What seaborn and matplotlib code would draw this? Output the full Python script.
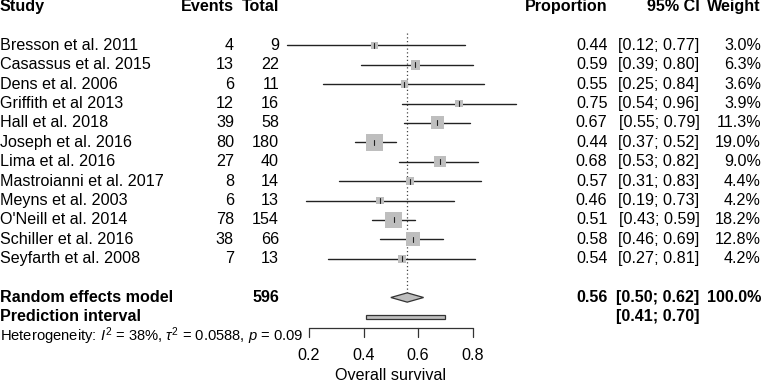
import numpy as np
import pandas as pd
import matplotlib
matplotlib.use("Agg")
import matplotlib.pyplot as plt
import seaborn as sns
from matplotlib.patches import Polygon, Rectangle

# ---------------- data ----------------
studies = ["Bresson et al. 2011", "Casassus et al. 2015", "Dens et al. 2006",
           "Griffith et al 2013", "Hall et al. 2018", "Joseph et al. 2016",
           "Lima et al. 2016", "Mastroianni et al. 2017", "Meyns et al. 2003",
           "O'Neill et al. 2014", "Schiller et al. 2016", "Seyfarth et al. 2008"]
events = [4, 13, 6, 12, 39, 80, 27, 8, 6, 78, 38, 7]
totals = [9, 22, 11, 16, 58, 180, 40, 14, 13, 154, 66, 13]
proportion = [0.44, 0.59, 0.55, 0.75, 0.67, 0.44, 0.68, 0.57, 0.46, 0.51, 0.58, 0.54]
ci_low = [0.12, 0.39, 0.25, 0.54, 0.55, 0.37, 0.53, 0.31, 0.19, 0.43, 0.46, 0.27]
ci_high = [0.77, 0.80, 0.84, 0.96, 0.79, 0.52, 0.82, 0.83, 0.73, 0.59, 0.69, 0.81]
weights = [3.0, 6.3, 3.6, 3.9, 11.3, 19.0, 9.0, 4.4, 4.2, 18.2, 12.8, 4.2]

pooled_total = 596
pooled_est, pooled_low, pooled_high = 0.56, 0.50, 0.62
pred_low, pred_high = 0.41, 0.70
het_I2, het_tau2, het_p = "38%", "0.0588", "0.09"
xticks = [0.2, 0.4, 0.6, 0.8]
xlabel = "Overall survival"

# ---------------- style ----------------
sns.set_theme(style="white")
plt.rcParams["font.family"] = ["Liberation Sans", "DejaVu Sans"]
plt.rcParams["mathtext.fontset"] = "custom"
plt.rcParams["mathtext.rm"] = "Liberation Sans"
plt.rcParams["mathtext.it"] = "Liberation Sans:italic"
plt.rcParams["mathtext.bf"] = "Liberation Sans:bold"
plt.rcParams["text.color"] = "black"
FS = 11.6

W, H = 762, 382
fig = plt.figure(figsize=(W / 100, H / 100), dpi=100)
ax = fig.add_axes([0, 0, 1, 1])

# pixel mapping: 0.2 -> 309 px, 0.8 -> 472.7 px ; row r -> 6.5 + 19.4 r px
px0, pxscale = 309.0, (472.7 - 309.0) / 0.6
def xv(px):
    return 0.2 + (px - px0) / pxscale
row0, rowh = 6.5, 19.4
ax.set_xlim(xv(0), xv(W))
ax.set_ylim((H - row0) / rowh, (0 - row0) / rowh)
ax.axis("off")

df = pd.DataFrame({"study": studies, "events": events, "total": totals,
                   "prop": proportion, "lo": ci_low, "hi": ci_high, "w": weights})
df["row"] = np.arange(len(df)) + 2

# reference dotted line at pooled estimate
ax.plot([pooled_est, pooled_est], [1.37, 15 - 0.24], color="#444444",
        linestyle=(0, (1, 2)), linewidth=0.9, zorder=1)

# CI lines
for _, r in df.iterrows():
    ax.plot([r.lo, r.hi], [r.row, r.row], color="#222222", linewidth=1.0, zorder=2)

# weight squares (side ∝ sqrt(weight))
side_px = 3.83 * np.sqrt(df["w"].values)
side_pt = side_px * 0.72
sns.scatterplot(data=df, x="prop", y="row", marker="s", s=side_pt ** 2,
                color="#BEBEBE", edgecolor="none", linewidth=0, ax=ax,
                legend=False, zorder=3)
# little vertical tick at point estimate
for _, r in df.iterrows():
    ax.plot([r.prop, r.prop], [r.row - 0.13, r.row + 0.13], color="#222222",
            linewidth=0.8, zorder=4)

# pooled diamond
ry = 15
ax.add_patch(Polygon([[pooled_low, ry], [pooled_est, ry - 0.24], [pooled_high, ry],
                      [pooled_est, ry + 0.24]], closed=True, facecolor="#BEBEBE",
                     edgecolor="#333333", linewidth=0.9, zorder=3))
# prediction interval bar
ax.add_patch(Rectangle((pred_low, 16 - 0.11), pred_high - pred_low, 0.22,
                       facecolor="#BEBEBE", edgecolor="#333333", linewidth=0.9, zorder=3))

# x axis
ay = (327.7 - row0) / rowh
ty = (337.0 - row0) / rowh
ax.plot([xticks[0], xticks[-1]], [ay, ay], color="#333333", linewidth=0.9)
for t in xticks:
    ax.plot([t, t], [ay, ty], color="#333333", linewidth=0.9)
    ax.text(t, 18, f"{t:.1f}", ha="center", va="center", fontsize=FS)
ax.text(0.5, 19.0, xlabel, ha="center", va="center", fontsize=FS)

# ---------------- text columns ----------------
x_study = xv(0)
x_events = xv(234)
x_total = xv(279)
x_prop = xv(607.5)
x_ci = xv(699.5)
x_w = xv(761)

hdr = dict(fontsize=FS, fontweight="bold", va="center")
ax.text(x_study, 0, "Study", ha="left", **hdr)
ax.text(x_events, 0, "Events", ha="right", **hdr)
ax.text(x_total, 0, "Total", ha="right", **hdr)
ax.text(x_prop, 0, "Proportion", ha="right", **hdr)
ax.text(x_ci, 0, "95% CI", ha="right", **hdr)
ax.text(x_w, 0, "Weight", ha="right", **hdr)

for _, r in df.iterrows():
    kw = dict(fontsize=FS, va="center")
    ax.text(x_study, r.row, r.study, ha="left", **kw)
    ax.text(x_events, r.row, f"{r.events}", ha="right", **kw)
    ax.text(x_total, r.row, f"{r.total}", ha="right", **kw)
    ax.text(x_prop, r.row, f"{r.prop:.2f}", ha="right", **kw)
    ax.text(x_ci, r.row, f"[{r.lo:.2f}; {r.hi:.2f}]", ha="right", **kw)
    ax.text(x_w, r.row, f"{r.w:.1f}%", ha="right", **kw)

bk = dict(fontsize=FS, fontweight="bold", va="center")
ax.text(x_study, 15, "Random effects model", ha="left", **bk)
ax.text(x_total, 15, f"{pooled_total}", ha="right", **bk)
ax.text(x_prop, 15, f"{pooled_est:.2f}", ha="right", **bk)
ax.text(x_ci, 15, f"[{pooled_low:.2f}; {pooled_high:.2f}]", ha="right", **bk)
ax.text(x_w, 15, "100.0%", ha="right", **bk)
ax.text(x_study, 16, "Prediction interval", ha="left", **bk)
ax.text(x_ci, 16, f"[{pred_low:.2f}; {pred_high:.2f}]", ha="right", **bk)

ax.text(x_study, 17, r"Heterogeneity: $\mathit{I}^2$ = " + het_I2 +
        r", $\tau^2$ = " + het_tau2 + r", $\mathit{p}$ = " + het_p,
        ha="left", va="center", fontsize=10.6)

fig.savefig("out.png", dpi=100)
